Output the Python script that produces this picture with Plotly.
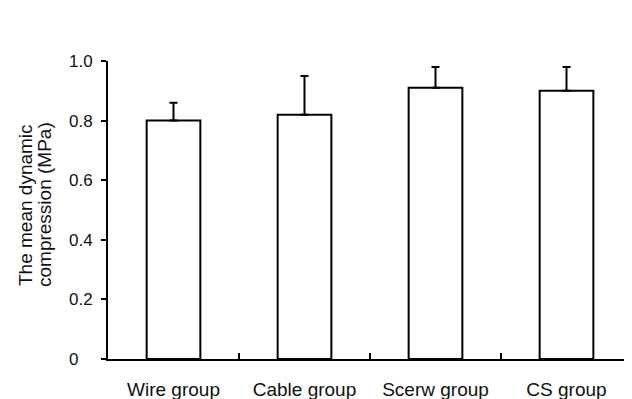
import plotly.graph_objects as go

categories = ["Wire group", "Cable group", "Scerw group", "CS group"]
means = [0.80, 0.82, 0.91, 0.90]
errors = [0.06, 0.13, 0.07, 0.08]
ytick_vals = [0, 0.2, 0.4, 0.6, 0.8, 1.0]
ytick_text = ["0\u00a0\u00a0\u00a0", "0.2", "0.4", "0.6", "0.8", "1.0"]
ytitle_lines = ["The mean dynamic", "compression (MPa)"]

FONT = "Liberation Sans, Arial, sans-serif"

fig = go.Figure()
fig.add_trace(go.Bar(
    x=categories,
    y=means,
    width=0.41,
    marker=dict(color="white", line=dict(color="black", width=2)),
    error_y=dict(type="data", symmetric=False, array=errors,
                 arrayminus=[0] * len(errors),
                 color="black", thickness=2, width=4),
    showlegend=False,
))

fig.update_layout(
    width=632, height=399,
    margin=dict(l=100, r=8, t=53, b=48),
    paper_bgcolor="white", plot_bgcolor="white",
    font=dict(family=FONT, size=17, color="#111"),
)
fig.update_xaxes(
    range=[-0.5, 3.5], automargin=False,
    showline=True, linecolor="black", linewidth=2,
    ticks="inside", tickson="boundaries", ticklen=6, tickwidth=2,
    tickcolor="black", showgrid=False, zeroline=False,
    tickfont=dict(size=19), ticklabelstandoff=12,
)
fig.update_yaxes(
    range=[0, 1.0], automargin=False,
    tickvals=ytick_vals, ticktext=ytick_text,
    showline=True, linecolor="black", linewidth=2,
    ticks="outside", ticklen=5, tickwidth=2, tickcolor="black",
    showgrid=False, zeroline=False,
    tickfont=dict(size=17), ticklabelstandoff=5,
)

# two-line rotated y-axis title
for xpx, line in zip([25, 44], ytitle_lines):
    fig.add_annotation(
        text=line, textangle=-90, showarrow=False,
        xref="paper", yref="paper",
        x=(xpx - 108) / 524, y=(359 - 205) / 298,
        xanchor="center", yanchor="middle",
        font=dict(size=19, color="#111"),
    )

fig.write_html("out.html")
